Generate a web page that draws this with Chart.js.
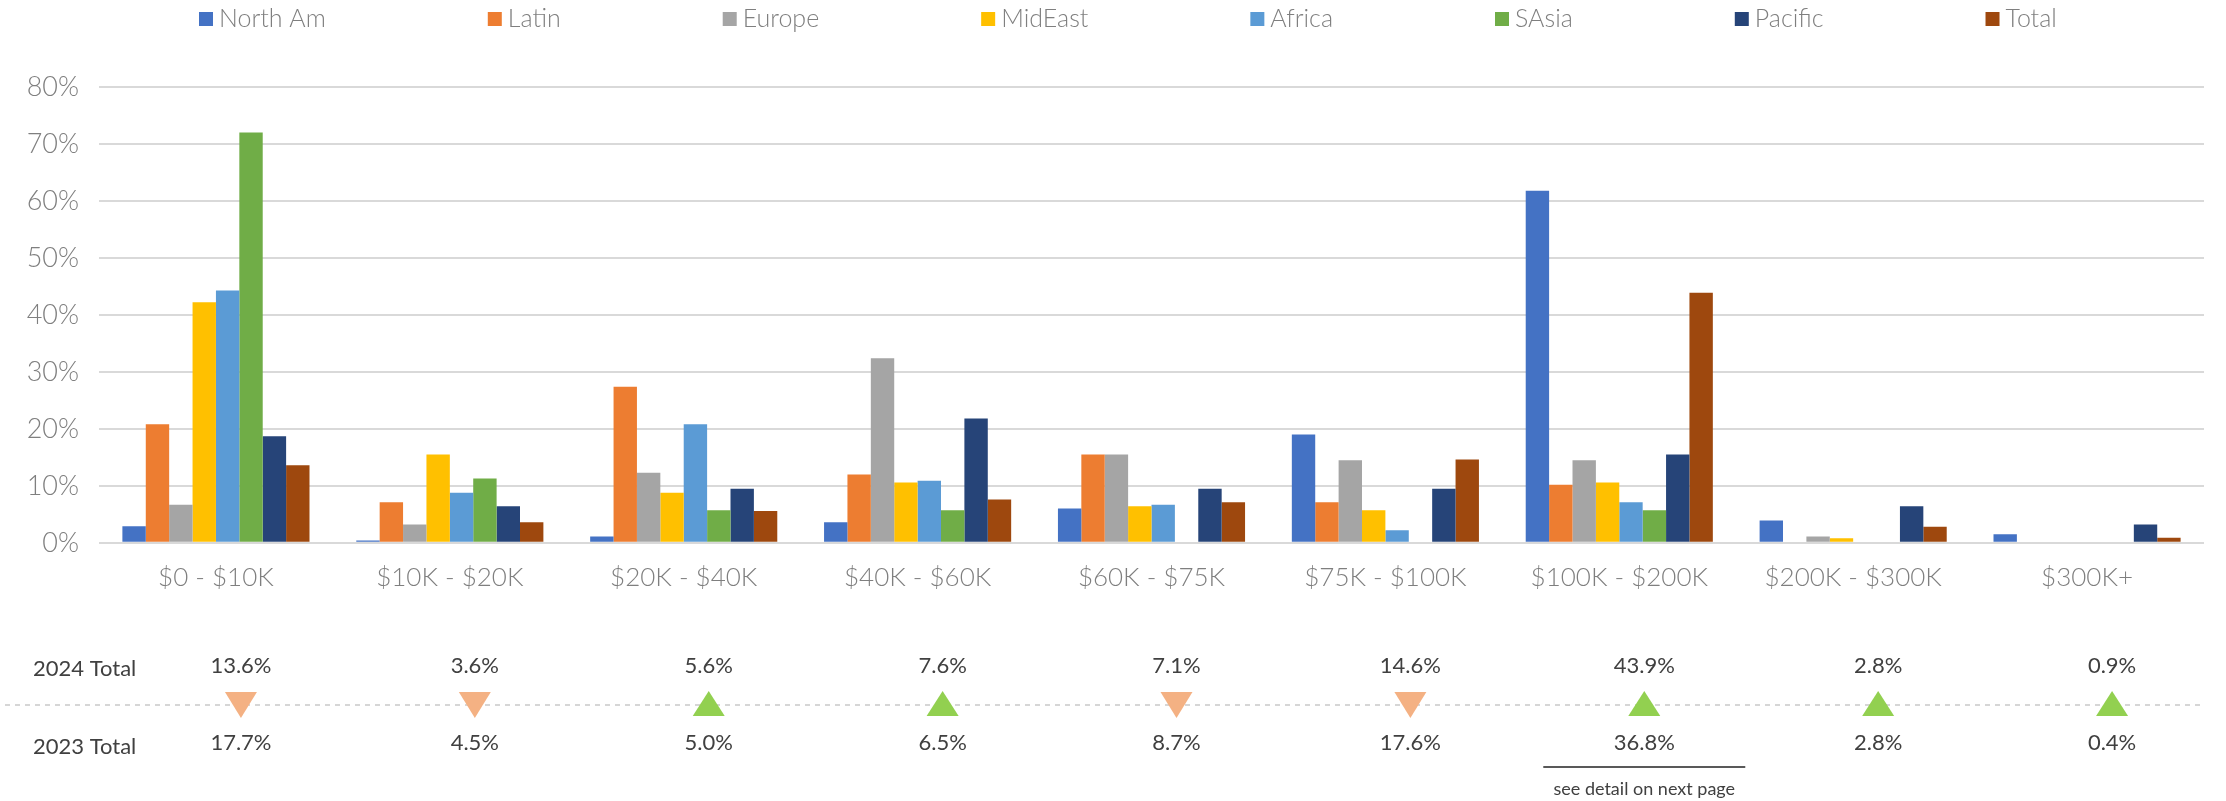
<!DOCTYPE html>
<html>
<head>
<meta charset="utf-8">
<script src="https://cdn.jsdelivr.net/npm/chart.js@4.4.1/dist/chart.umd.min.js"></script>
<style>
  html, body { margin: 0; padding: 0; background: #fff; }
  #wrap { width: 2226px; height: 801px; position: relative; }
</style>
</head>
<body>
<div id="wrap"><canvas id="chart"></canvas></div>
<script>
const categories = ['$0 - $10K', '$10K - $20K', '$20K - $40K', '$40K - $60K', '$60K - $75K', '$75K - $100K', '$100K - $200K', '$200K - $300K', '$300K+'];

const northAm = [2.9, 0.4, 1.1, 3.6, 6.0, 19.0, 61.8, 3.9, 1.5];
const latin   = [20.8, 7.1, 27.4, 12.0, 15.5, 7.1, 10.2, 0, 0];
const europe  = [6.7, 3.2, 12.3, 32.4, 15.5, 14.5, 14.5, 1.1, 0];
const midEast = [42.2, 15.5, 8.8, 10.6, 6.4, 5.7, 10.6, 0.8, 0];
const africa  = [44.3, 8.8, 20.8, 10.9, 6.7, 2.2, 7.1, 0, 0];
const sAsia   = [72.0, 11.3, 5.7, 5.7, 0, 0, 5.7, 0, 0];
const pacific = [18.7, 6.4, 9.5, 21.8, 9.5, 9.5, 15.5, 6.4, 3.2];
const total2024 = [13.6, 3.6, 5.6, 7.6, 7.1, 14.6, 43.9, 2.8, 0.9];
const total2023 = [17.7, 4.5, 5.0, 6.5, 8.7, 17.6, 36.8, 2.8, 0.4];

const yMax = 80;
const yStep = 10;
const rowLabels = ['2024 Total', '2023 Total'];
const noteIndex = 6;
const noteText = 'see detail on next page';

const series = [
    { label: 'North Am', data: northAm,   color: '#4472C4' },
    { label: 'Latin',    data: latin,     color: '#ED7D31' },
    { label: 'Europe',   data: europe,    color: '#A5A5A5' },
    { label: 'MidEast',  data: midEast,   color: '#FFC000' },
    { label: 'Africa',   data: africa,    color: '#5B9BD5' },
    { label: 'SAsia',    data: sAsia,     color: '#70AD47' },
    { label: 'Pacific',  data: pacific,   color: '#264478' },
    { label: 'Total',    data: total2024, color: '#9E480E' },
];

const FONT = 'Lato, "Open Sans", sans-serif';

// legend drawn by hand so the wide gaps between items can be kept
const wideLegend = {
    id: 'wideLegend',
    afterDraw(chart) {
        const ctx = chart.ctx;
        ctx.save();
        ctx.font = `300 25px ${FONT}`;
        ctx.textBaseline = 'middle';
        let x = chart.chartArea.left + 100;
        chart.data.datasets.forEach(ds => {
            ctx.fillStyle = ds.backgroundColor;
            ctx.fillRect(x, 12, 14, 14);
            ctx.fillStyle = '#7f7f7f';
            ctx.fillText(ds.label, x + 20, 19);
            x += 20 + ctx.measureText(ds.label).width + 162;
        });
        ctx.restore();
    }
};

// comparison table under the chart
const totalsTable = {
    id: 'totalsTable',
    afterDraw(chart) {
        const ctx = chart.ctx;
        const xs = chart.scales.x;
        ctx.save();

        ctx.strokeStyle = '#d6d6d6';
        ctx.lineWidth = 2;
        ctx.setLineDash([5, 5]);
        ctx.beginPath();
        ctx.moveTo(5, 705);
        ctx.lineTo(2200, 705);
        ctx.stroke();
        ctx.setLineDash([]);

        ctx.font = `22px ${FONT}`;
        ctx.fillStyle = '#404040';
        ctx.textBaseline = 'middle';
        ctx.textAlign = 'left';
        ctx.fillText(rowLabels[0], 33, 669);
        ctx.fillText(rowLabels[1], 33, 747);

        ctx.textAlign = 'center';
        categories.forEach((c, i) => {
            const x = xs.getPixelForValue(i) + 25;
            ctx.fillStyle = '#404040';
            ctx.fillText(total2024[i].toFixed(1) + '%', x, 666);
            ctx.fillText(total2023[i].toFixed(1) + '%', x, 743);

            const up = total2024[i] >= total2023[i];
            ctx.fillStyle = up ? '#92D050' : '#F4B183';
            ctx.beginPath();
            if (up) {
                ctx.moveTo(x, 691);
                ctx.lineTo(x + 16, 716);
                ctx.lineTo(x - 16, 716);
            } else {
                ctx.moveTo(x - 16, 692);
                ctx.lineTo(x + 16, 692);
                ctx.lineTo(x, 718);
            }
            ctx.closePath();
            ctx.fill();
        });

        const nx = xs.getPixelForValue(noteIndex) + 25;
        ctx.strokeStyle = '#595959';
        ctx.lineWidth = 2;
        ctx.beginPath();
        ctx.moveTo(nx - 101, 767);
        ctx.lineTo(nx + 101, 767);
        ctx.stroke();
        ctx.font = `18px ${FONT}`;
        ctx.fillStyle = '#404040';
        ctx.fillText(noteText, nx, 789);

        ctx.restore();
    }
};

new Chart(document.getElementById('chart'), {
    type: 'bar',
    data: {
        labels: categories,
        datasets: series.map(s => ({
            label: s.label,
            data: s.data,
            backgroundColor: s.color,
            borderWidth: 0,
            categoryPercentage: 0.8,
            barPercentage: 1.0
        }))
    },
    options: {
        responsive: true,
        maintainAspectRatio: false,
        animation: false,
        layout: { padding: { top: 87, right: 22, bottom: 197, left: 0 } },
        plugins: {
            legend: { display: false },
            tooltip: { enabled: false }
        },
        scales: {
            x: {
                grid: { display: false },
                border: { display: false },
                ticks: {
                    color: '#7f7f7f',
                    font: { family: FONT, size: 26, weight: 300 },
                    padding: 11,
                    maxRotation: 0,
                    autoSkip: false
                }
            },
            y: {
                min: 0,
                max: yMax,
                afterFit: (s) => { s.width = 99; },
                grid: { color: '#d9d9d9', lineWidth: 2, drawTicks: false },
                border: { display: false },
                ticks: {
                    stepSize: yStep,
                    color: '#7f7f7f',
                    font: { family: FONT, size: 27, weight: 300 },
                    padding: 20,
                    callback: v => v + '%'
                }
            }
        }
    },
    plugins: [wideLegend, totalsTable]
});
</script>
</body>
</html>
